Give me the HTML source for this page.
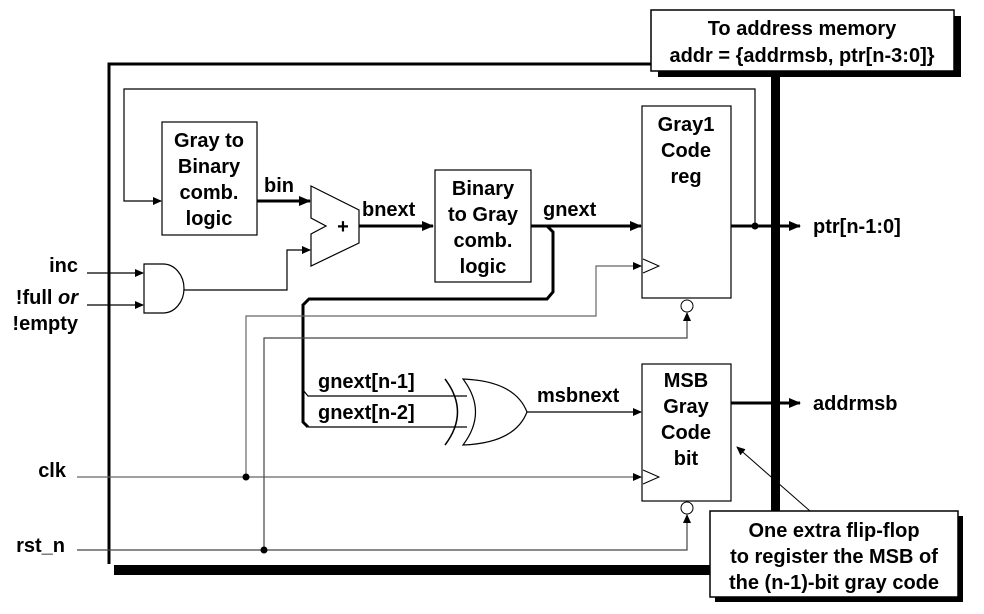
<!DOCTYPE html>
<html><head><style>
body{margin:0;background:#fff}
svg text{font-family:"Liberation Sans",Arial,sans-serif;font-weight:bold;font-size:20px;fill:#000}
</style></head><body>
<svg width="984" height="609" viewBox="0 0 984 609" xmlns="http://www.w3.org/2000/svg">
<defs>
<marker id="a" markerWidth="12" markerHeight="10" refX="11" refY="5" orient="auto" markerUnits="userSpaceOnUse"><path d="M0,0 L12,5 L0,10z" fill="#000"/></marker>
<marker id="s" markerWidth="9" markerHeight="8" refX="8" refY="4" orient="auto" markerUnits="userSpaceOnUse"><path d="M0,0 L9,4 L0,8z" fill="#000"/></marker>
</defs>
<path d="M109,564 L109,64 L652,64" fill="none" stroke="#000" stroke-width="3"/>
<rect x="114" y="565" width="598" height="10" fill="#000"/>
<rect x="771" y="70" width="9" height="442" fill="#000"/>
<rect x="658" y="16" width="303" height="61" fill="#000"/>
<rect x="651" y="10" width="303" height="61" fill="#fff" stroke="#000" stroke-width="1.5"/>
<text x="802" y="35" text-anchor="middle">To address memory</text>
<text x="802" y="62" text-anchor="middle">addr = {addrmsb, ptr[n-3:0]}</text>
<path d="M755,226 L755,89 L124,89 L124,201 L161,201" fill="none" stroke="#000" stroke-width="1.2" marker-end="url(#s)"/>
<rect x="162" y="122" width="95" height="113" fill="#fff" stroke="#000" stroke-width="1.2"/>
<text x="209" y="147" text-anchor="middle">Gray to</text>
<text x="209" y="173" text-anchor="middle">Binary</text>
<text x="209" y="199" text-anchor="middle">comb.</text>
<text x="209" y="225" text-anchor="middle">logic</text>
<line x1="257" y1="201" x2="310" y2="201" stroke="#000" stroke-width="3" marker-end="url(#a)"/>
<text x="264" y="192">bin</text>
<path d="M311,186 L359,210 L359,243 L311,266 L311,234 L326,226 L311,218z" fill="#fff" stroke="#000" stroke-width="1.2"/>
<text x="343" y="233" text-anchor="middle">+</text>
<line x1="359" y1="226" x2="433" y2="226" stroke="#000" stroke-width="3" marker-end="url(#a)"/>
<text x="362" y="216">bnext</text>
<rect x="435" y="170" width="96" height="112" fill="#fff" stroke="#000" stroke-width="1.2"/>
<text x="483" y="195" text-anchor="middle">Binary</text>
<text x="483" y="221" text-anchor="middle">to Gray</text>
<text x="483" y="247" text-anchor="middle">comb.</text>
<text x="483" y="273" text-anchor="middle">logic</text>
<line x1="531" y1="226" x2="641" y2="226" stroke="#000" stroke-width="3" marker-end="url(#a)"/>
<text x="543" y="216">gnext</text>
<path d="M547,226 L553,232 L553,292 L547,299 L309,299 L303,305 L303,422 L308,427" fill="none" stroke="#000" stroke-width="3"/>
<path d="M303,390 L308,396 L467,396 M308,427 L467,427" fill="none" stroke="#000" stroke-width="1.2"/>
<text x="318" y="388">gnext[n-1]</text>
<text x="318" y="419">gnext[n-2]</text>
<path d="M445,379 Q470,412 445,445" fill="none" stroke="#000" stroke-width="1.5"/>
<path d="M463,379 Q515,381 527,412 Q515,443 463,445 Q488,412 463,379z" fill="#fff" stroke="#000" stroke-width="1.2"/>
<line x1="527" y1="412" x2="641" y2="412" stroke="#000" stroke-width="1.2" marker-end="url(#s)"/>
<text x="537" y="402">msbnext</text>
<rect x="642" y="106" width="89" height="192" fill="#fff" stroke="#000" stroke-width="1.2"/>
<path d="M643,259 L659,266 L643,273" fill="none" stroke="#000" stroke-width="1"/>
<text x="686" y="131" text-anchor="middle">Gray1</text>
<text x="686" y="157" text-anchor="middle">Code</text>
<text x="686" y="183" text-anchor="middle">reg</text>
<circle cx="687" cy="306" r="6" fill="#fff" stroke="#000" stroke-width="1"/>
<line x1="731" y1="226" x2="800" y2="226" stroke="#000" stroke-width="3" marker-end="url(#a)"/>
<circle cx="755" cy="226" r="3.5" fill="#000"/>
<text x="813" y="233">ptr[n-1:0]</text>
<rect x="642" y="364" width="89" height="137" fill="#fff" stroke="#000" stroke-width="1.2"/>
<path d="M643,470 L659,477 L643,484" fill="none" stroke="#000" stroke-width="1"/>
<text x="686" y="387" text-anchor="middle">MSB</text>
<text x="686" y="413" text-anchor="middle">Gray</text>
<text x="686" y="439" text-anchor="middle">Code</text>
<text x="686" y="465" text-anchor="middle">bit</text>
<circle cx="687" cy="508" r="6" fill="#fff" stroke="#000" stroke-width="1"/>
<line x1="731" y1="403" x2="800" y2="403" stroke="#000" stroke-width="3" marker-end="url(#a)"/>
<text x="813" y="410">addrmsb</text>
<text x="78" y="272" text-anchor="end">inc</text>
<text x="78" y="304" text-anchor="end">!full <tspan font-style="italic">or</tspan></text>
<text x="78" y="330" text-anchor="end">!empty</text>
<line x1="87" y1="273" x2="143" y2="273" stroke="#000" stroke-width="1.2" marker-end="url(#s)"/>
<line x1="87" y1="305" x2="143" y2="305" stroke="#000" stroke-width="1.2" marker-end="url(#s)"/>
<path d="M144,264 L163,264 A21,24.5 0 0 1 163,313 L144,313z" fill="#fff" stroke="#000" stroke-width="1.2"/>
<path d="M184,290 L287,290 L287,250 L310,250" fill="none" stroke="#000" stroke-width="1.2" marker-end="url(#s)"/>
<text x="66" y="477" text-anchor="end">clk</text>
<line x1="77" y1="477" x2="641" y2="477" stroke="#666" stroke-width="1.2" marker-end="url(#s)"/>
<path d="M246,477 L246,316 L596,316 L596,266 L641,266" fill="none" stroke="#666" stroke-width="1.2" marker-end="url(#s)"/>
<circle cx="246" cy="477" r="3.5" fill="#000"/>
<text x="65" y="552" text-anchor="end">rst_n</text>
<path d="M77,550 L687,550 L687,515" fill="none" stroke="#444" stroke-width="1.2" marker-end="url(#s)"/>
<path d="M264,550 L264,338 L687,338 L687,313" fill="none" stroke="#444" stroke-width="1.2" marker-end="url(#s)"/>
<circle cx="264" cy="550" r="3.5" fill="#000"/>
<line x1="810" y1="511" x2="737" y2="447" stroke="#000" stroke-width="1" marker-end="url(#s)"/>
<rect x="715" y="516" width="248" height="86" fill="#000"/>
<rect x="710" y="511" width="248" height="86" fill="#fff" stroke="#000" stroke-width="1.5"/>
<text x="834" y="537" text-anchor="middle">One extra flip-flop</text>
<text x="834" y="563" text-anchor="middle">to register the MSB of</text>
<text x="834" y="589" text-anchor="middle">the (n-1)-bit gray code</text>
</svg>
</body></html>
